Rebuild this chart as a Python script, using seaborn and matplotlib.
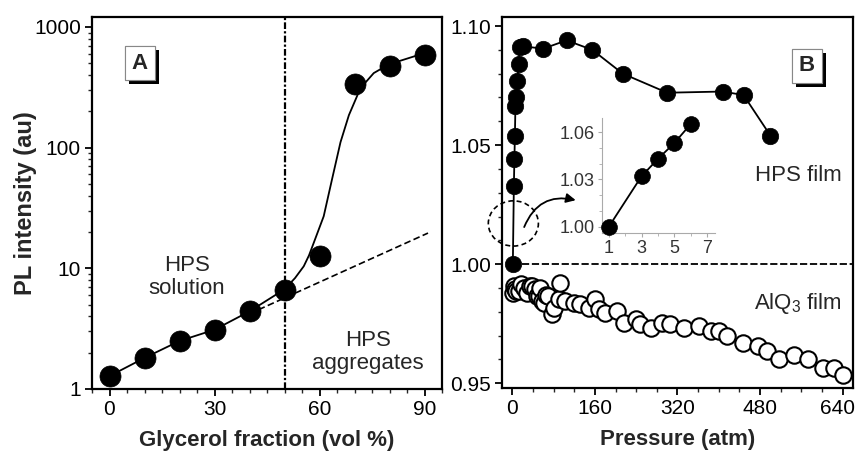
import numpy as np
import pandas as pd
import matplotlib
matplotlib.use("Agg")
import matplotlib.pyplot as plt
import matplotlib.transforms as mtrans
import seaborn as sns
from matplotlib import patheffects as pe
from matplotlib.patches import Ellipse
from matplotlib.ticker import MultipleLocator, LogLocator, NullFormatter, FixedLocator, FixedFormatter

# ---------------- Panel A data ----------------
glycerol_frac = [0, 10, 20, 30, 40, 50, 60, 70, 80, 90]
pl_intensity = [1.28, 1.81, 2.5, 3.1, 4.4, 6.6, 12.6, 336, 475, 590]
fit_frac = [0, 10, 20, 30, 40, 50, 53, 55.5, 57, 58.4, 61.2, 63.6, 66, 68.4, 71.7, 75.5, 79.8, 89.8]
fit_intensity = [1.28, 1.81, 2.5, 3.1, 4.4, 6.7, 8.3, 10.4, 12.8, 16.4, 27, 55, 111, 186, 311, 415, 490, 605]
trend_frac = [40, 91]
trend_intensity = [4.2, 19.6]
onset_frac = 50
a_yticks = [1, 10, 100, 1000]
a_xticks = [0, 30, 60, 90]

# ---------------- Panel B data ----------------
hps_pressure = [1, 3, 4, 5, 6, 8, 10, 12, 15, 20, 60, 105, 155, 214, 300, 408, 448, 500]
hps_rel_pl = [1.000, 1.033, 1.044, 1.054, 1.0665, 1.070, 1.077, 1.084, 1.091, 1.0915,
              1.0905, 1.094, 1.090, 1.080, 1.072, 1.0725, 1.071, 1.054]
alq3_pressure = [2, 4, 6, 8, 12, 16, 22, 28, 34, 38, 44, 48, 51, 54, 58, 61, 65, 70, 77, 80,
                 90, 93, 103, 119, 132, 148, 161, 168, 180, 203, 216, 239, 248, 268, 290, 306,
                 332, 361, 384, 400, 416, 446, 475, 494, 517, 546, 572, 601, 623, 640]
alq3_rel_pl = [0.988, 0.9908, 0.9895, 0.9887, 0.9887, 0.9916, 0.990, 0.988, 0.991, 0.9908,
               0.9894, 0.9866, 0.9866, 0.990, 0.9845, 0.9838, 0.987, 0.9866, 0.9789, 0.9817,
               0.9852, 0.992, 0.9845, 0.9838, 0.9831, 0.9817, 0.9852, 0.981, 0.9796, 0.9803,
               0.9754, 0.9768, 0.9747, 0.9733, 0.9754, 0.9747, 0.9733, 0.974, 0.9719, 0.9719,
               0.9697, 0.967, 0.9655, 0.9634, 0.960, 0.962, 0.960, 0.9564, 0.9564, 0.9536]
inset_pressure = [1, 3, 4, 5, 6]
inset_rel_pl = [1.000, 1.032, 1.043, 1.053, 1.065]
b_xticks = [0, 160, 320, 480, 640]
b_yticks = [0.95, 1.00, 1.05, 1.10]
inset_xticks = [1, 3, 5, 7]
inset_yticks = [1.00, 1.03, 1.06]

# ---------------- style ----------------
sns.set_style("ticks")
plt.rcParams["font.family"] = ["Liberation Sans", "DejaVu Sans"]
plt.rcParams["mathtext.fontset"] = "custom"
plt.rcParams["mathtext.rm"] = "Liberation Sans"
plt.rcParams["mathtext.it"] = "Liberation Sans"

fig = plt.figure(figsize=(8.58, 4.54), dpi=100)
axA = fig.add_axes([92 / 858, 65 / 454, 350 / 858, 372 / 454])
axB = fig.add_axes([502 / 858, 66 / 454, 351 / 858, 371 / 454])

TICK_FS = 15
LABEL_FS = 16
TEXT_FS = 16


def style_axes(ax, fs=TICK_FS):
    for s in ax.spines.values():
        s.set_linewidth(1.6)
        s.set_color("black")
    ax.tick_params(which="major", direction="out", length=5, width=1.3, labelsize=fs,
                   colors="black", top=False, right=False, pad=3)
    ax.tick_params(which="minor", direction="out", length=3, width=1.0,
                   top=False, right=False)


# ---------------- Panel A ----------------
axA.set_yscale("log")
sns.lineplot(x=fit_frac, y=fit_intensity, ax=axA, color="black", lw=1.3, sort=False,
             estimator=None, zorder=2)
sns.lineplot(x=trend_frac, y=trend_intensity, ax=axA, color="black", lw=1.2,
             linestyle=(0, (4, 2)), sort=False, estimator=None, zorder=1)
axA.axvline(onset_frac, color="black", lw=1.6, linestyle=(0, (3, 1, 1, 1)), zorder=1)
sns.scatterplot(x=glycerol_frac, y=pl_intensity, ax=axA, color="black", s=230,
                edgecolor="black", linewidth=0.5, zorder=3)
axA.set_xlim(-5, 95)
axA.set_ylim(1, 1210)
axA.yaxis.set_major_locator(FixedLocator(a_yticks))
axA.yaxis.set_major_formatter(FixedFormatter([str(v) for v in a_yticks]))
axA.yaxis.set_minor_locator(LogLocator(base=10, subs=np.arange(2, 10)))
axA.yaxis.set_minor_formatter(NullFormatter())
axA.set_xticks(a_xticks)
axA.xaxis.set_minor_locator(MultipleLocator(5))
style_axes(axA)
axA.set_xlabel("Glycerol fraction (vol %)", fontsize=LABEL_FS, fontweight="bold", labelpad=8)
axA.set_ylabel("PL intensity (au)", fontsize=LABEL_FS + 1, fontweight="bold", labelpad=-2)

axA.text(0.271, 0.301, "HPS\nsolution", transform=axA.transAxes, ha="center", va="center",
         fontsize=TEXT_FS, linespacing=1.15)
axA.text(0.789, 0.10, "HPS\naggregates", transform=axA.transAxes, ha="center", va="center",
         fontsize=TEXT_FS, linespacing=1.15)
tA = axA.text(0.137, 0.876, "A", transform=axA.transAxes, ha="center", va="center",
              fontsize=16, fontweight="bold",
              bbox=dict(boxstyle="square,pad=0.3", fc="white", ec="#888888", lw=0.8))
tA.get_bbox_patch().set_path_effects([pe.withSimplePatchShadow(offset=(3, -3),
                                      shadow_rgbFace="black", alpha=1.0), pe.Normal()])

# ---------------- Panel B ----------------
axB.axhline(1.0, xmin=(0 + 20) / 680, color="black", lw=1.3, linestyle=(0, (4, 1.5)), zorder=1)
sns.lineplot(x=hps_pressure, y=hps_rel_pl, ax=axB, color="black", lw=1.3, sort=False,
             estimator=None, zorder=2)
sns.scatterplot(x=alq3_pressure, y=alq3_rel_pl, ax=axB, color="white", s=140,
                edgecolor="black", linewidth=1.5, zorder=3)
sns.scatterplot(x=hps_pressure, y=hps_rel_pl, ax=axB, color="black", s=140,
                edgecolor="black", linewidth=0.5, zorder=4)
axB.set_xlim(-20, 660)
axB.set_ylim(0.948, 1.1038)
axB.set_xticks(b_xticks)
axB.xaxis.set_minor_locator(MultipleLocator(40))
axB.set_yticks(b_yticks)
axB.set_yticklabels([f"{v:.2f}" for v in b_yticks])
axB.yaxis.set_minor_locator(MultipleLocator(0.01))
style_axes(axB)
axB.set_xlabel("Pressure (atm)", fontsize=LABEL_FS, fontweight="bold", labelpad=8)

# nudge the last x tick label slightly left so it stays inside the figure
last_lbl = axB.get_xticklabels()[-1]
last_lbl.set_transform(last_lbl.get_transform() +
                       mtrans.ScaledTranslation(-4 / 72, 0, fig.dpi_scale_trans))

axB.text(0.843, 0.574, "HPS film", transform=axB.transAxes, ha="center", va="center",
         fontsize=TEXT_FS)
axB.text(0.843, 0.229, "AlQ$_3$ film", transform=axB.transAxes, ha="center", va="center",
         fontsize=TEXT_FS)
tB = axB.text(0.869, 0.868, "B", transform=axB.transAxes, ha="center", va="center",
              fontsize=16, fontweight="bold",
              bbox=dict(boxstyle="square,pad=0.3", fc="white", ec="#888888", lw=0.8))
tB.get_bbox_patch().set_path_effects([pe.withSimplePatchShadow(offset=(3, -3),
                                      shadow_rgbFace="black", alpha=1.0), pe.Normal()])

circ = Ellipse((2, 1.0171), 97, 0.019, fill=False, ec="black", lw=1.2,
               linestyle=(0, (3, 2)), zorder=5)
circ.set_clip_on(False)
axB.add_patch(circ)
axB.annotate("", xy=(128, 1.0266), xytext=(21, 1.0145),
             arrowprops=dict(arrowstyle="-|>", color="black", lw=1.3, mutation_scale=14,
                             connectionstyle="arc3,rad=-0.45"), zorder=5)

# ---------------- Inset ----------------
axI = fig.add_axes([602 / 858, 221 / 454, 113 / 858, 115 / 454])
axI.set_facecolor("none")
sns.lineplot(x=inset_pressure, y=inset_rel_pl, ax=axI, color="black", lw=1.3, sort=False,
             estimator=None, zorder=2)
sns.scatterplot(x=inset_pressure, y=inset_rel_pl, ax=axI, color="black", s=130,
                edgecolor="black", linewidth=0.5, zorder=3, clip_on=False)
axI.set_xlim(0.58, 7.5)
axI.set_ylim(0.996, 1.069)
axI.set_xticks(inset_xticks)
axI.xaxis.set_minor_locator(MultipleLocator(1))
axI.set_yticks(inset_yticks)
axI.set_yticklabels([f"{v:.2f}" for v in inset_yticks])
axI.yaxis.set_minor_locator(MultipleLocator(0.01))
for side in ["top", "right"]:
    axI.spines[side].set_visible(False)
for side in ["left", "bottom"]:
    axI.spines[side].set_color("#aaaaaa")
    axI.spines[side].set_linewidth(0.8)
axI.tick_params(which="major", direction="out", length=3, width=0.8, color="#aaaaaa",
                labelcolor="#333333", labelsize=13, pad=2)
axI.tick_params(which="minor", direction="out", length=2, width=0.6, color="#aaaaaa")

fig.savefig("out.png", dpi=100)
